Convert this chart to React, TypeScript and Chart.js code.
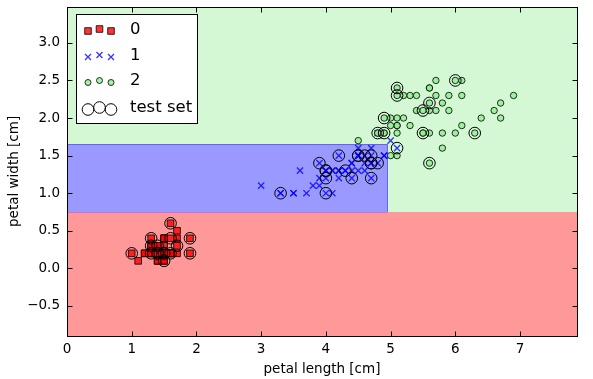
import React, { useEffect, useRef } from "react";
import { Chart, registerables } from "chart.js";

Chart.register(...registerables);

// Iris petal measurements (cm)
const setosaLength = [1.4,1.4,1.3,1.5,1.4,1.7,1.4,1.5,1.4,1.5,1.5,1.6,1.4,1.1,1.2,1.5,1.3,1.4,1.7,1.5,1.7,1.5,1.0,1.7,1.9,1.6,1.6,1.5,1.4,1.6,1.6,1.5,1.5,1.4,1.5,1.2,1.3,1.4,1.3,1.5,1.3,1.3,1.3,1.6,1.9,1.4,1.6,1.4,1.5,1.4];
const setosaWidth = [0.2,0.2,0.2,0.2,0.2,0.4,0.3,0.2,0.2,0.1,0.2,0.2,0.1,0.1,0.2,0.4,0.4,0.3,0.3,0.3,0.2,0.4,0.2,0.5,0.2,0.2,0.4,0.2,0.2,0.2,0.2,0.4,0.1,0.2,0.2,0.2,0.2,0.1,0.2,0.2,0.3,0.3,0.2,0.6,0.4,0.3,0.2,0.2,0.2,0.2];

const versicolorLength = [4.7,4.5,4.9,4.0,4.6,4.5,4.7,3.3,4.6,3.9,3.5,4.2,4.0,4.7,3.6,4.4,4.5,4.1,4.5,3.9,4.8,4.0,4.9,4.7,4.3,4.4,4.8,5.0,4.5,3.5,3.8,3.7,3.9,5.1,4.5,4.5,4.7,4.4,4.1,4.0,4.4,4.6,4.0,3.3,4.2,4.2,4.2,4.3,3.0,4.1];
const versicolorWidth = [1.4,1.5,1.5,1.3,1.5,1.3,1.6,1.0,1.3,1.4,1.0,1.5,1.0,1.4,1.3,1.4,1.5,1.0,1.5,1.1,1.8,1.3,1.5,1.2,1.3,1.4,1.4,1.7,1.5,1.0,1.1,1.0,1.2,1.6,1.5,1.6,1.5,1.3,1.3,1.3,1.2,1.4,1.2,1.0,1.3,1.2,1.3,1.3,1.1,1.3];

const virginicaLength = [6.0,5.1,5.9,5.6,5.8,6.6,4.5,6.3,5.8,6.1,5.1,5.3,5.5,5.0,5.1,5.3,5.5,6.7,6.9,5.0,5.7,4.9,6.7,4.9,5.7,6.0,4.8,4.9,5.6,5.8,6.1,6.4,5.6,5.1,5.6,6.1,5.6,5.5,4.8,5.4,5.6,5.1,5.1,5.9,5.7,5.2,5.0,5.2,5.4,5.1];
const virginicaWidth = [2.5,1.9,2.1,1.8,2.2,2.1,1.7,1.8,1.8,2.5,2.0,1.9,2.1,2.0,2.4,2.3,1.8,2.2,2.3,1.5,2.3,2.0,2.0,1.8,2.1,1.8,1.8,1.8,2.1,1.6,1.9,2.0,2.2,1.5,1.4,2.3,2.4,1.8,1.8,2.1,2.4,2.3,1.9,2.3,2.5,2.3,1.9,2.0,2.3,1.8];

// Test-set samples (highlighted with open circles)
const testLength = [1.0,1.3,1.6,1.9,1.3,1.7,1.9,1.5,1.6,1.4,1.5,1.3,1.4,1.5,1.4,1.6,
  3.9,4.0,4.0,3.3,4.0,4.2,4.5,4.6,4.7,4.7,4.8,4.3,4.4,4.7,5.1,4.5,4.0,4.7,
  5.1,5.1,5.6,5.5,4.9,4.8,4.9,5.5,6.0,6.3,5.6];
const testWidth = [0.2,0.4,0.4,0.4,0.3,0.3,0.2,0.1,0.6,0.2,0.2,0.2,0.3,0.2,0.2,0.2,
  1.4,1.3,1.2,1.0,1.0,1.5,1.5,1.5,1.5,1.4,1.4,1.3,1.2,1.2,1.6,1.5,1.3,1.4,
  2.4,2.3,2.2,2.1,2.0,1.8,1.8,1.8,2.5,1.8,1.4];

// Decision tree thresholds
const widthSplitLow = 0.75;
const widthSplitHigh = 1.65;
const lengthSplit = 4.95;

const classLabels = ["0", "1", "2", "test set"];
const xRange = [0, 7.88];
const yRange = [-0.9, 3.48];

const FONT = "'DejaVu Sans', sans-serif";

const toPts = (xs: number[], ys: number[]) => xs.map((x, i) => ({ x, y: ys[i] }));

const regionsPlugin = {
  id: "regions",
  beforeDatasetsDraw(chart: any) {
    const { ctx, chartArea: a, scales } = chart;
    const xs = scales.x, ys = scales.y;
    const px = (v: number) => xs.getPixelForValue(v);
    const py = (v: number) => ys.getPixelForValue(v);
    ctx.save();
    ctx.beginPath();
    ctx.rect(a.left, a.top, a.right - a.left, a.bottom - a.top);
    ctx.clip();
    ctx.fillStyle = "rgb(211,248,211)";
    ctx.fillRect(a.left, a.top, a.right - a.left, a.bottom - a.top);
    ctx.fillStyle = "rgb(255,153,153)";
    ctx.fillRect(a.left, py(widthSplitLow), a.right - a.left, a.bottom - py(widthSplitLow));
    const bx0 = a.left, bx1 = px(lengthSplit), by0 = py(widthSplitHigh), by1 = py(widthSplitLow);
    ctx.fillStyle = "rgb(153,153,255)";
    ctx.fillRect(bx0, by0, bx1 - bx0, by1 - by0);
    ctx.strokeStyle = "rgba(90,90,255,0.9)";
    ctx.lineWidth = 1;
    ctx.beginPath();
    ctx.moveTo(bx0, Math.round(by0) + 0.5);
    ctx.lineTo(Math.round(bx1) + 0.5, Math.round(by0) + 0.5);
    ctx.lineTo(Math.round(bx1) + 0.5, by1);
    ctx.stroke();
    ctx.strokeStyle = "rgba(200,100,220,0.8)";
    ctx.beginPath();
    ctx.moveTo(bx0, Math.round(by1) + 0.5);
    ctx.lineTo(bx1, Math.round(by1) + 0.5);
    ctx.stroke();
    ctx.restore();
  },
};

const framePlugin = {
  id: "frame",
  afterDatasetsDraw(chart: any) {
    const { ctx, chartArea: a, scales } = chart;
    const L = Math.round(a.left) + 0.5, R = Math.round(a.right) + 0.5;
    const T = Math.round(a.top) + 0.5, B = Math.round(a.bottom) + 0.5;
    ctx.save();
    ctx.strokeStyle = "#000";
    ctx.lineWidth = 1;
    const tl = 5;
    ctx.beginPath();
    scales.x.ticks.forEach((t: any) => {
      const x = Math.round(scales.x.getPixelForValue(t.value)) + 0.5;
      ctx.moveTo(x, B); ctx.lineTo(x, B - tl);
      ctx.moveTo(x, T); ctx.lineTo(x, T + tl);
    });
    scales.y.ticks.forEach((t: any) => {
      const y = Math.round(scales.y.getPixelForValue(t.value)) + 0.5;
      ctx.moveTo(L, y); ctx.lineTo(L + tl, y);
      ctx.moveTo(R, y); ctx.lineTo(R - tl, y);
    });
    ctx.stroke();
    ctx.strokeRect(L, T, R - L, B - T);
    ctx.restore();
  },
};

const legendPlugin = {
  id: "customLegend",
  afterDraw(chart: any) {
    const ctx = chart.ctx;
    ctx.save();
    ctx.fillStyle = "#fff";
    ctx.strokeStyle = "#000";
    ctx.lineWidth = 1;
    ctx.fillRect(76.5, 14.5, 121, 109);
    ctx.strokeRect(76.5, 14.5, 121, 109);
    const rowsY = [29.5, 55.5, 81, 108];
    const mx = [88, 99.5, 111];
    const my = [1.5, -0.5, 1.5];
    rowsY.forEach((ry, r) => {
      for (let k = 0; k < 3; k++) {
        const x = mx[k], y = ry + my[k];
        ctx.beginPath();
        if (r === 0) {
          ctx.fillStyle = "rgba(255,0,0,0.8)";
          ctx.strokeStyle = "rgba(0,0,0,0.8)";
          ctx.rect(x - 3.3, y - 3.3, 6.6, 6.6);
          ctx.fill(); ctx.stroke();
        } else if (r === 1) {
          ctx.strokeStyle = "rgba(0,0,255,0.8)";
          ctx.lineWidth = 1.3;
          ctx.moveTo(x - 3, y - 3); ctx.lineTo(x + 3, y + 3);
          ctx.moveTo(x + 3, y - 3); ctx.lineTo(x - 3, y + 3);
          ctx.stroke();
          ctx.lineWidth = 1;
        } else if (r === 2) {
          ctx.fillStyle = "rgba(144,238,144,0.8)";
          ctx.strokeStyle = "rgba(0,0,0,0.8)";
          ctx.arc(x, y, 3, 0, Math.PI * 2);
          ctx.fill(); ctx.stroke();
        } else {
          ctx.strokeStyle = "#000";
          ctx.arc(x, y, 5.8, 0, Math.PI * 2);
          ctx.stroke();
        }
      }
      ctx.fillStyle = "#000";
      ctx.font = `16.5px ${FONT}`;
      ctx.textBaseline = "middle";
      ctx.textAlign = "left";
      ctx.fillText(classLabels[r], 130, ry);
    });
    ctx.restore();
  },
};

export default function App() {
  const ref = useRef<HTMLCanvasElement | null>(null);
  useEffect(() => {
    if (!ref.current) return;
    const chart = new Chart(ref.current, {
      type: "scatter",
      data: {
        datasets: [
          {
            label: classLabels[3],
            data: toPts(testLength, testWidth),
            pointStyle: "circle",
            pointRadius: 5.8,
            backgroundColor: "rgba(0,0,0,0)",
            borderColor: "#000",
            borderWidth: 1,
            order: 0,
          },
          {
            label: classLabels[2],
            data: toPts(virginicaLength, virginicaWidth),
            pointStyle: "circle",
            pointRadius: 3.2,
            backgroundColor: "rgba(144,238,144,0.8)",
            borderColor: "rgba(0,0,0,0.8)",
            borderWidth: 1,
            order: 1,
          },
          {
            label: classLabels[1],
            data: toPts(versicolorLength, versicolorWidth),
            pointStyle: "crossRot",
            pointRadius: 4.4,
            backgroundColor: "rgba(0,0,255,0.8)",
            borderColor: "rgba(0,0,255,0.8)",
            borderWidth: 1.3,
            order: 2,
          },
          {
            label: classLabels[0],
            data: toPts(setosaLength, setosaWidth),
            pointStyle: "rect",
            pointRadius: 4.7,
            backgroundColor: "rgba(255,0,0,0.8)",
            borderColor: "rgba(0,0,0,0.8)",
            borderWidth: 1,
            order: 3,
          },
        ],
      },
      options: {
        animation: false,
        responsive: false,
        devicePixelRatio: 1,
        layout: { padding: { top: 6, right: 16, left: 0, bottom: 0 } },
        plugins: { legend: { display: false }, tooltip: { enabled: false } },
        events: [],
        scales: {
          x: {
            type: "linear",
            min: xRange[0],
            max: xRange[1],
            grid: { display: false, drawTicks: false, tickLength: 0 },
            border: { display: false },
            ticks: {
              stepSize: 1,
              includeBounds: false,
              color: "#000",
              font: { family: FONT, size: 13.5 },
              padding: 5,
              maxRotation: 0,
              callback: (v: any) => String(v),
            },
            title: {
              display: true,
              text: "petal length [cm]",
              color: "#000",
              font: { family: FONT, size: 13.5 },
              padding: { top: 0, bottom: 1 },
            },
            afterFit: (s: any) => { s.height = 43; s.paddingLeft = 0; s.paddingRight = 0; },
          },
          y: {
            type: "linear",
            min: yRange[0],
            max: yRange[1],
            grid: { display: false, drawTicks: false, tickLength: 0 },
            border: { display: false },
            ticks: {
              stepSize: 0.5,
              includeBounds: false,
              color: "#000",
              font: { family: FONT, size: 13.5 },
              padding: 7,
              callback: (v: any) => {
                const n = Number(v);
                return n < 0 ? "\u2212" + Math.abs(n).toFixed(1) : n.toFixed(1);
              },
            },
            title: {
              display: true,
              text: "petal width [cm]",
              color: "#000",
              font: { family: FONT, size: 13.5 },
              padding: { top: 6, bottom: 0 },
            },
            afterFit: (s: any) => { s.width = 67; s.paddingTop = 0; s.paddingBottom = 0; },
          },
        },
      },
      plugins: [regionsPlugin, framePlugin, legendPlugin],
    });
    return () => chart.destroy();
  }, []);
  return (
    <div style={{ position: "fixed", left: 0, top: 0, width: 593, height: 379, background: "#fff" }}>
      <canvas ref={ref} width={593} height={379} style={{ width: 593, height: 379, display: "block" }} />
    </div>
  );
}
